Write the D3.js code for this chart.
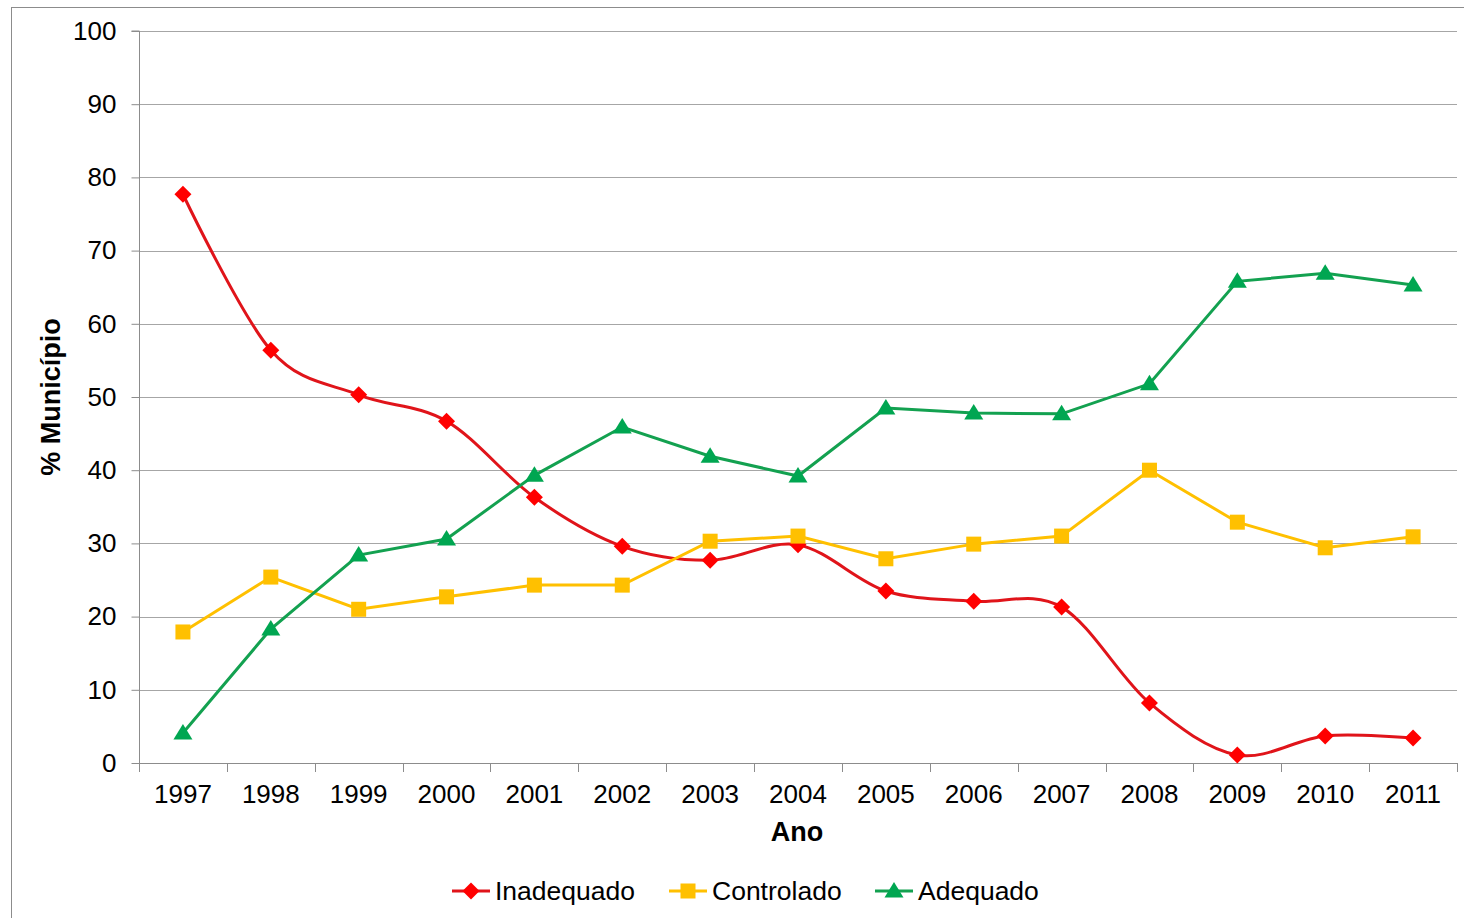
<!DOCTYPE html>
<html><head><meta charset="utf-8">
<script src="https://cdn.jsdelivr.net/npm/d3@7"></script>
<style>html,body{margin:0;padding:0;background:#fff;}svg{display:block;font-family:"Liberation Sans",Arial,sans-serif;}</style>
</head><body>
<svg id="c" width="1464" height="918"></svg>
<script>
const years = ["1997","1998","1999","2000","2001","2002","2003","2004","2005","2006","2007","2008","2009","2010","2011"];
const inadequado = [77.7,56.4,50.3,46.7,36.3,29.6,27.7,29.8,23.5,22.1,21.3,8.2,1.1,3.7,3.4];
const controlado = [17.9,25.4,21.0,22.7,24.3,24.3,30.3,31.0,27.9,29.9,31.0,40.0,32.9,29.4,30.9];
const adequado = [4.1,18.3,28.4,30.6,39.3,45.9,41.9,39.2,48.5,47.8,47.7,51.8,65.8,66.9,65.3];
const yTicks = [0,10,20,30,40,50,60,70,80,90,100];
const seriesNames = ["Inadequado","Controlado","Adequado"];

const svg = d3.select("#c");
const L = 139, R = 1457, T = 31, B = 763;
const x = d3.scaleBand().domain(years).range([L, R]);
const y = d3.scaleLinear().domain([0,100]).range([B, T]);

// outer border
svg.append("rect").attr("x",11.5).attr("y",7.5).attr("width",1470).attr("height",930)
  .attr("fill","none").attr("stroke","#8c8c8c").attr("stroke-width",1);

// gridlines
svg.append("g").selectAll("line").data(yTicks.filter(d=>d>0)).join("line")
  .attr("x1",L).attr("x2",R).attr("y1",d=>Math.round(y(d))+0.5).attr("y2",d=>Math.round(y(d))+0.5)
  .attr("stroke","#a6a6a6").attr("stroke-width",1);

// y axis
const ya = svg.append("g").attr("transform",`translate(${L+0.5},0)`)
  .call(d3.axisLeft(y).tickValues(yTicks).tickSize(8).tickPadding(15).tickFormat(d3.format("d")));
ya.select(".domain").attr("stroke","#8c8c8c").attr("d",`M-8,${T}H0V${B}`);
ya.selectAll(".tick line").attr("stroke","#8c8c8c");
ya.selectAll(".tick text").attr("font-size",26).attr("fill","#000").attr("font-family","Liberation Sans, Arial, sans-serif");

// x axis
const xa = svg.append("g").attr("transform",`translate(0,${B+0.5})`)
  .call(d3.axisBottom(x).tickSize(0).tickPadding(21));
xa.select(".domain").attr("stroke","#8c8c8c").attr("d",`M${L},0H${R}`);
xa.selectAll(".tick text").attr("font-size",26).attr("fill","#000").attr("font-family","Liberation Sans, Arial, sans-serif");
svg.append("g").selectAll("line").data(years.concat(["end"])).join("line")
  .attr("x1",(d,i)=>Math.round(L + i*x.step())+0.5).attr("x2",(d,i)=>Math.round(L + i*x.step())+0.5)
  .attr("y1",B).attr("y2",B+9).attr("stroke","#8c8c8c");

// axis titles
svg.append("text").attr("x",797).attr("y",841).attr("text-anchor","middle")
  .attr("font-size",27).attr("font-weight","bold").text("Ano");
svg.append("text").attr("transform","translate(60,397) rotate(-90)").attr("text-anchor","middle")
  .attr("font-size",27).attr("font-weight","bold").text("% Município");

const cx = d => x(d) + x.bandwidth()/2;
const series = [
  {name:seriesNames[0], vals:inadequado, line:"#e0141a", fill:"#ff0000", sym:"diamond", curve:d3.curveCardinal.tension(0)},
  {name:seriesNames[1], vals:controlado, line:"#ffc000", fill:"#ffc000", sym:"square", curve:d3.curveLinear},
  {name:seriesNames[2], vals:adequado, line:"#13a150", fill:"#00a651", sym:"triangle", curve:d3.curveLinear}
];
function drawSym(g, s, px, py){
  if(s.sym==="diamond"){
    g.append("path").attr("d",`M${px},${py-8.5}L${px+8.5},${py}L${px},${py+8.5}L${px-8.5},${py}Z`).attr("fill",s.fill);
  } else if(s.sym==="square"){
    g.append("rect").attr("x",px-7.5).attr("y",py-7.5).attr("width",15).attr("height",15).attr("fill",s.fill);
  } else {
    g.append("path").attr("d",`M${px},${py-9}L${px+9.5},${py+6.5}L${px-9.5},${py+6.5}Z`).attr("fill",s.fill);
  }
}
series.forEach(s=>{
  const g = svg.append("g");
  const line = d3.line().x((d,i)=>cx(years[i])).y(d=>y(d)).curve(s.curve);
  g.append("path").attr("d",line(s.vals)).attr("fill","none").attr("stroke",s.line).attr("stroke-width",3);
  s.vals.forEach((v,i)=>drawSym(g,s,cx(years[i]),y(v)));
});

// legend
const legX = [452, 669, 875];
series.forEach((s,i)=>{
  const g = svg.append("g");
  const x0 = legX[i];
  g.append("line").attr("x1",x0).attr("x2",x0+38).attr("y1",891).attr("y2",891).attr("stroke",s.line).attr("stroke-width",3);
  drawSym(g,s,x0+19,891);
  g.append("text").attr("x",x0+43).attr("y",900).attr("font-size",26.5).text(s.name);
});
</script>
</body></html>
